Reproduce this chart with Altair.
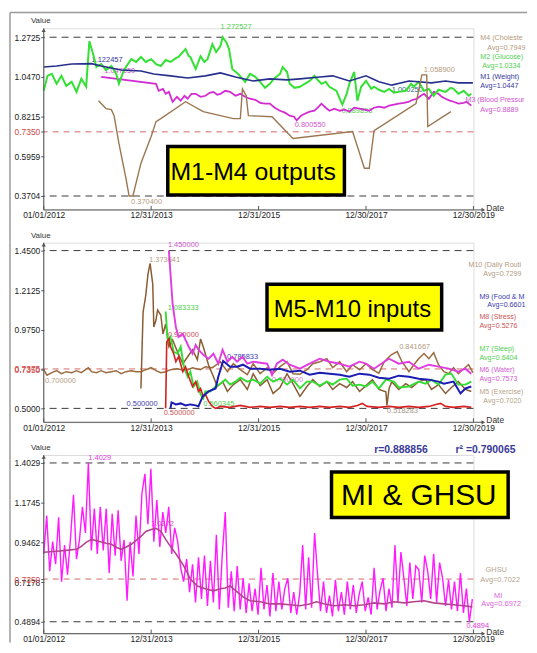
import altair as alt
import numpy as np
import pandas as pd

FONT = "Liberation Sans"
W = 433

# ---------------- x axis (decimal years) ----------------
x_ticks = [2012, 2014, 2016, 2018, 2020]
x_tick_labels = ["01/01/2012", "12/31/2013", "12/31/2015", "12/30/2017", "12/30/2019"]

# ---------------- top panel: M1-M4 outputs ----------------
m1 = [(2012.00, 1.103), (2012.24, 1.109), (2012.52, 1.120), (2012.89, 1.122457), (2013.07, 1.109),
      (2013.44, 1.086), (2013.81, 1.081), (2014.05, 1.064), (2014.36, 1.053), (2014.68, 1.041),
      (2015.01, 1.053), (2015.29, 1.070), (2015.57, 1.047), (2015.90, 1.024), (2016.21, 1.036),
      (2016.53, 1.030), (2016.77, 1.036), (2017.14, 1.047), (2017.38, 1.053), (2017.69, 1.024),
      (2018.00, 1.053), (2018.24, 1.019), (2018.48, 1.000250), (2018.80, 1.024), (2019.22, 1.013),
      (2019.48, 1.024), (2019.72, 1.013), (2019.99, 1.013)]
m2 = [(2012.00, 0.968), (2012.07, 1.053), (2012.15, 1.064), (2012.24, 1.008), (2012.33, 1.053), (2012.42, 0.996),
      (2012.52, 1.019), (2012.61, 0.962), (2012.70, 1.036), (2012.79, 0.991), (2012.85, 1.250), (2012.92, 1.177),
      (2012.98, 1.103), (2013.07, 1.120), (2013.16, 1.086), (2013.26, 1.109), (2013.35, 1.064), (2013.40, 1.008),
      (2013.48, 1.075), (2013.53, 1.103), (2013.63, 1.148), (2013.72, 1.132), (2013.81, 1.160), (2013.90, 1.132),
      (2014.00, 1.148), (2014.09, 1.120), (2014.18, 1.109), (2014.27, 1.143), (2014.36, 1.132), (2014.46, 1.154),
      (2014.51, 1.160), (2014.59, 1.188), (2014.64, 1.205), (2014.70, 1.165), (2014.73, 1.160), (2014.83, 1.092),
      (2014.92, 1.165), (2014.99, 1.132), (2015.05, 1.148), (2015.14, 1.233), (2015.21, 1.188), (2015.29, 1.222),
      (2015.33, 1.272527), (2015.40, 1.244), (2015.45, 1.205), (2015.51, 1.092), (2015.62, 1.064), (2015.70, 1.036),
      (2015.75, 1.019), (2015.84, 1.064), (2015.94, 1.047), (2016.03, 1.019), (2016.12, 0.985), (2016.21, 1.008),
      (2016.30, 1.041), (2016.40, 1.064), (2016.45, 1.103), (2016.53, 1.075), (2016.58, 1.008), (2016.67, 0.985),
      (2016.77, 0.991), (2016.86, 1.008), (2016.95, 1.024), (2017.04, 1.053), (2017.10, 1.030), (2017.17, 1.008),
      (2017.25, 1.019), (2017.32, 0.991), (2017.45, 0.968), (2017.52, 0.917), (2017.56, 0.889893), (2017.64, 0.951),
      (2017.69, 1.008), (2017.78, 1.075), (2017.84, 0.912), (2017.91, 0.991), (2018.00, 1.024), (2018.10, 0.979),
      (2018.15, 0.991), (2018.24, 0.974), (2018.34, 0.962), (2018.43, 0.979), (2018.52, 0.957), (2018.61, 0.962),
      (2018.74, 0.968), (2018.84, 1.008), (2018.89, 0.991), (2018.98, 1.019), (2019.08, 0.968), (2019.17, 0.979),
      (2019.26, 0.940), (2019.35, 0.974), (2019.48, 0.962), (2019.58, 0.985), (2019.63, 0.979), (2019.72, 0.951),
      (2019.82, 0.968), (2019.91, 0.940), (2019.96, 0.951)]
m3 = [(2013.07, 1.047850), (2014.09, 1.008), (2014.14, 0.968), (2014.22, 0.979), (2014.27, 0.951), (2014.33, 0.962),
      (2014.40, 0.906), (2014.48, 0.934), (2014.55, 0.912), (2014.62, 0.940), (2014.68, 0.923), (2014.75, 0.951),
      (2014.83, 0.951), (2014.92, 0.934), (2015.01, 0.940), (2015.09, 0.957), (2015.16, 0.962), (2015.23, 0.946),
      (2015.29, 0.951), (2015.38, 0.968), (2015.47, 0.962), (2015.57, 0.940), (2015.66, 0.951), (2015.75, 0.934),
      (2015.84, 0.923), (2015.94, 0.917), (2016.03, 0.900), (2016.12, 0.895), (2016.21, 0.895), (2016.30, 0.872),
      (2016.40, 0.855), (2016.49, 0.844), (2016.58, 0.827), (2016.66, 0.821), (2016.71, 0.800550), (2016.79, 0.827),
      (2016.86, 0.838), (2016.95, 0.850), (2017.04, 0.855), (2017.12, 0.878), (2017.17, 0.895), (2017.25, 0.872),
      (2017.32, 0.855), (2017.41, 0.867), (2017.51, 0.855), (2017.60, 0.861), (2017.69, 0.850), (2017.78, 0.872),
      (2017.88, 0.867), (2017.97, 0.861), (2018.06, 0.855), (2018.15, 0.872), (2018.24, 0.878), (2018.34, 0.872),
      (2018.43, 0.884), (2018.52, 0.889), (2018.61, 0.895), (2018.71, 0.900), (2018.80, 0.906), (2018.87, 0.917),
      (2018.95, 0.923), (2019.02, 0.940), (2019.08, 0.951), (2019.17, 0.923), (2019.26, 0.962), (2019.35, 0.951),
      (2019.41, 0.934), (2019.48, 0.923), (2019.56, 0.912), (2019.63, 0.906), (2019.72, 0.895), (2019.82, 0.900),
      (2019.87, 0.906), (2019.96, 0.884)]
m4 = [(2013.02, 0.912), (2013.16, 0.867), (2013.26, 0.861), (2013.31, 0.827), (2013.40, 0.669), (2013.53, 0.472),
      (2013.59, 0.370400), (2013.66, 0.370400), (2013.81, 0.557), (2014.00, 0.709), (2014.09, 0.793), (2014.18, 0.810),
      (2014.64, 0.906), (2014.97, 0.850), (2015.29, 0.827), (2015.53, 0.810), (2015.66, 0.810), (2015.70, 0.979),
      (2015.77, 0.940), (2015.81, 0.827), (2016.25, 0.821), (2016.64, 0.697), (2017.75, 0.737), (2017.97, 0.528),
      (2018.06, 0.528), (2018.15, 0.742), (2018.93, 0.895), (2019.04, 1.058900), (2019.13, 1.058900),
      (2019.15, 0.765), (2019.58, 0.850)]
top_ticks = [1.2725, 1.0470, 0.8215, 0.7350, 0.5959, 0.3704]

# ---------------- middle panel: M5-M10 inputs ----------------
m10 = [(2012.00, 0.733), (2012.06, 0.700), (2012.15, 0.715), (2012.24, 0.727), (2012.33, 0.709), (2012.42, 0.721),
       (2012.52, 0.715), (2012.61, 0.727), (2012.70, 0.715), (2012.83, 0.745), (2012.89, 0.721), (2012.98, 0.715),
       (2013.07, 0.727), (2013.16, 0.715), (2013.26, 0.721), (2013.35, 0.727), (2013.44, 0.709), (2013.53, 0.721),
       (2013.63, 0.727), (2013.72, 0.721), (2013.81, 0.721), (2013.90, 0.733), (2014.00, 0.745), (2014.09, 0.727),
       (2014.18, 0.715), (2014.27, 0.721), (2014.36, 0.733), (2014.49, 0.739), (2014.64, 0.727), (2014.77, 0.745),
       (2014.92, 0.733), (2015.01, 0.751), (2015.14, 0.745), (2015.29, 0.781), (2015.42, 0.721), (2015.53, 0.769),
       (2015.66, 0.733), (2015.79, 0.703), (2015.90, 0.769), (2016.03, 0.709), (2016.16, 0.745), (2016.27, 0.712),
       (2016.40, 0.751), (2016.53, 0.781), (2016.64, 0.709), (2016.77, 0.706), (2016.90, 0.733), (2017.01, 0.769),
       (2017.14, 0.781), (2017.27, 0.799), (2017.38, 0.745), (2017.51, 0.781), (2017.64, 0.721), (2017.75, 0.763),
       (2017.88, 0.733), (2018.00, 0.769), (2018.12, 0.733), (2018.24, 0.712), (2018.34, 0.781), (2018.47, 0.823),
       (2018.58, 0.841667), (2018.67, 0.781), (2018.80, 0.721), (2018.89, 0.763), (2018.98, 0.799), (2019.08, 0.830),
       (2019.17, 0.799), (2019.26, 0.835), (2019.35, 0.763), (2019.45, 0.721), (2019.54, 0.709), (2019.63, 0.745),
       (2019.72, 0.709), (2019.82, 0.739), (2019.91, 0.763), (2019.99, 0.715)]
m5 = [(2013.81, 0.620), (2013.85, 1.080), (2013.90, 1.181), (2013.94, 1.307), (2013.98, 1.373641), (2014.03, 1.247),
      (2014.05, 0.990), (2014.09, 1.032), (2014.12, 1.092), (2014.18, 1.062), (2014.22, 0.948), (2014.27, 1.008),
      (2014.33, 0.871), (2014.40, 0.912), (2014.49, 0.841), (2014.59, 0.769), (2014.68, 0.811), (2014.77, 0.853),
      (2014.86, 0.793), (2014.92, 0.918), (2014.97, 0.871), (2015.07, 0.760), (2015.16, 0.691), (2015.23, 0.632),
      (2015.33, 0.661), (2015.42, 0.602), (2015.53, 0.643), (2015.66, 0.673), (2015.79, 0.614), (2015.90, 0.709),
      (2016.03, 0.637), (2016.16, 0.673), (2016.27, 0.590), (2016.40, 0.626), (2016.53, 0.709), (2016.64, 0.649),
      (2016.77, 0.572), (2016.90, 0.632), (2017.01, 0.673), (2017.14, 0.632), (2017.27, 0.661), (2017.38, 0.614),
      (2017.51, 0.649), (2017.64, 0.626), (2017.75, 0.661), (2017.88, 0.602), (2018.00, 0.637), (2018.12, 0.673),
      (2018.24, 0.614), (2018.37, 0.600), (2018.39, 0.518283), (2018.43, 0.620), (2018.48, 0.661), (2018.61, 0.614),
      (2018.74, 0.649), (2018.85, 0.626), (2018.98, 0.661), (2019.11, 0.673), (2019.22, 0.614), (2019.35, 0.643),
      (2019.48, 0.590), (2019.59, 0.626), (2019.72, 0.661), (2019.85, 0.614), (2019.96, 0.602)]
m6 = [(2014.33, 1.450000), (2014.40, 1.127), (2014.46, 0.990), (2014.51, 0.930), (2014.59, 0.948), (2014.64, 0.912),
      (2014.70, 0.871), (2014.77, 0.829), (2014.83, 0.882), (2014.88, 0.853), (2014.97, 0.823), (2015.07, 0.799),
      (2015.16, 0.829), (2015.25, 0.769), (2015.33, 0.853), (2015.42, 0.781), (2015.51, 0.811), (2015.60, 0.781),
      (2015.70, 0.811), (2015.79, 0.769), (2015.90, 0.781), (2016.03, 0.775), (2016.16, 0.769), (2016.25, 0.700000),
      (2016.34, 0.769), (2016.45, 0.793), (2016.58, 0.763), (2016.77, 0.739), (2016.95, 0.769), (2017.14, 0.799),
      (2017.32, 0.781), (2017.51, 0.769), (2017.69, 0.751), (2017.88, 0.781), (2018.00, 0.769), (2018.15, 0.739),
      (2018.34, 0.781), (2018.43, 0.799), (2018.61, 0.769), (2018.80, 0.781), (2018.98, 0.739), (2019.17, 0.763),
      (2019.35, 0.751), (2019.54, 0.739), (2019.72, 0.721), (2019.85, 0.739), (2019.96, 0.709)]
m7 = [(2014.27, 1.083333), (2014.31, 0.900), (2014.36, 0.930), (2014.42, 0.841), (2014.49, 0.829), (2014.55, 0.871),
      (2014.61, 0.751), (2014.68, 0.691), (2014.73, 0.721), (2014.79, 0.632), (2014.86, 0.661), (2014.92, 0.584),
      (2014.97, 0.560345), (2015.01, 0.602), (2015.10, 0.602), (2015.20, 0.632), (2015.29, 0.649), (2015.38, 0.673),
      (2015.47, 0.643), (2015.57, 0.661), (2015.66, 0.685), (2015.79, 0.661), (2015.90, 0.673), (2016.03, 0.649),
      (2016.16, 0.691), (2016.27, 0.661), (2016.40, 0.679), (2016.53, 0.643), (2016.64, 0.673), (2016.77, 0.620),
      (2016.90, 0.661), (2017.01, 0.661), (2017.14, 0.637), (2017.27, 0.661), (2017.38, 0.643), (2017.51, 0.673),
      (2017.64, 0.679), (2017.75, 0.637), (2017.88, 0.643), (2018.00, 0.632), (2018.12, 0.661), (2018.24, 0.620),
      (2018.37, 0.673), (2018.52, 0.661), (2018.61, 0.626), (2018.80, 0.632), (2018.98, 0.661), (2019.11, 0.649),
      (2019.22, 0.673), (2019.35, 0.643), (2019.48, 0.703), (2019.59, 0.709), (2019.72, 0.643), (2019.85, 0.643),
      (2019.96, 0.661)]
m8 = [(2014.27, 0.500000), (2014.29, 0.900), (2014.33, 0.920000), (2014.36, 0.871), (2014.42, 0.829), (2014.46, 0.781),
      (2014.51, 0.811), (2014.59, 0.721), (2014.64, 0.751), (2014.70, 0.691), (2014.77, 0.632), (2014.83, 0.661),
      (2014.88, 0.602), (2014.92, 0.620), (2014.97, 0.572), (2015.01, 0.584), (2015.07, 0.542), (2015.14, 0.512),
      (2015.20, 0.500), (2015.29, 0.512), (2015.47, 0.506), (2015.66, 0.518), (2015.84, 0.506), (2016.03, 0.512),
      (2016.21, 0.506), (2016.40, 0.512), (2016.58, 0.506), (2016.77, 0.512), (2016.95, 0.506), (2017.14, 0.512),
      (2017.32, 0.506), (2017.51, 0.512), (2017.69, 0.506), (2017.84, 0.518), (2017.93, 0.530), (2018.02, 0.512),
      (2018.24, 0.506), (2018.43, 0.512), (2018.61, 0.506), (2018.80, 0.512), (2018.98, 0.506), (2019.17, 0.512),
      (2019.30, 0.524), (2019.39, 0.530), (2019.48, 0.512), (2019.63, 0.506), (2019.82, 0.512), (2019.96, 0.506)]
m9 = [(2014.36, 0.500000), (2014.38, 0.536), (2014.46, 0.524), (2014.55, 0.530), (2014.64, 0.518), (2014.73, 0.524),
      (2014.83, 0.518), (2014.88, 0.512), (2014.96, 0.572), (2015.07, 0.602), (2015.20, 0.620), (2015.25, 0.691),
      (2015.29, 0.733), (2015.34, 0.785833), (2015.47, 0.751), (2015.60, 0.751), (2015.71, 0.763), (2015.84, 0.739),
      (2016.03, 0.739), (2016.21, 0.733), (2016.40, 0.739), (2016.58, 0.721), (2016.77, 0.727), (2016.95, 0.703),
      (2017.14, 0.715), (2017.32, 0.709), (2017.51, 0.703), (2017.69, 0.691), (2017.88, 0.709), (2018.06, 0.703),
      (2018.24, 0.685), (2018.43, 0.679), (2018.61, 0.697), (2018.80, 0.691), (2018.98, 0.679), (2019.17, 0.673),
      (2019.35, 0.661), (2019.45, 0.649), (2019.63, 0.661), (2019.76, 0.590), (2019.85, 0.620), (2019.96, 0.632)]
mid_ticks = [1.4500, 1.2125, 0.9750, 0.7375, 0.7350, 0.5000]

# ---------------- bottom panel: MI & GHSU ----------------
mi_v = [0.88, 1.10, 0.78, 0.95, 0.82, 1.09, 0.72, 0.93, 0.76, 0.97,
        1.22, 0.85, 0.96, 1.15, 1.00, 1.4029, 0.90, 1.14, 0.88, 1.15,
        0.90, 1.14, 0.77, 1.11, 0.87, 1.13, 0.84, 0.96, 0.61, 0.95,
        0.75, 1.10, 0.88, 1.23, 1.34, 1.05, 1.37, 0.95, 1.19, 0.92,
        1.12, 1.00, 1.15, 0.88, 1.03, 0.95, 0.80, 0.72, 0.85, 0.66,
        0.82, 0.60, 0.86, 0.62, 0.87, 0.58, 0.84, 0.60, 0.99, 0.56,
        0.88, 1.12, 0.57, 0.78, 0.55, 0.81, 0.56, 0.74, 0.54, 0.71,
        0.55, 0.68, 0.53, 0.80, 0.56, 0.70, 0.52, 0.77, 0.55, 0.72,
        0.56, 0.68, 0.74, 0.54, 0.66, 0.53, 0.65, 0.93, 0.56, 0.86,
        0.57, 1.00, 0.76, 0.55, 0.72, 0.54, 0.64, 0.52, 0.73, 0.55,
        0.66, 0.53, 0.72, 0.56, 0.70, 0.54, 0.65, 0.72, 0.55, 0.63,
        0.53, 0.80, 0.56, 0.67, 0.74, 0.55, 0.68, 0.57, 0.93, 0.60,
        0.89, 0.74, 0.58, 0.83, 0.62, 0.81, 0.79, 0.60, 0.87, 0.78,
        0.62, 0.88, 0.60, 0.83, 0.74, 0.58, 0.73, 0.56, 0.72, 0.55,
        0.77, 0.54, 0.68, 0.4894, 0.62]
mi_t = np.linspace(2012.0, 2019.98, len(mi_v))
mi = list(zip(mi_t.tolist(), mi_v))
ghsu = [(2012.00, 0.889), (2012.24, 0.895), (2012.42, 0.900), (2012.61, 0.906), (2012.70, 0.923), (2012.79, 0.946),
        (2012.89, 0.963), (2013.02, 0.952), (2013.16, 0.941), (2013.26, 0.935), (2013.35, 0.918), (2013.44, 0.906),
        (2013.53, 0.918), (2013.63, 0.935), (2013.72, 0.958), (2013.81, 0.980), (2013.90, 1.009), (2014.00, 1.020),
        (2014.09, 1.0272), (2014.18, 1.009), (2014.27, 0.963), (2014.36, 0.923), (2014.48, 0.872), (2014.61, 0.809),
        (2014.73, 0.735), (2014.86, 0.695), (2015.01, 0.679), (2015.16, 0.667), (2015.29, 0.679), (2015.38, 0.684),
        (2015.47, 0.695), (2015.60, 0.661), (2015.71, 0.632), (2015.84, 0.610), (2016.03, 0.604), (2016.21, 0.592),
        (2016.40, 0.592), (2016.58, 0.587), (2016.77, 0.581), (2016.95, 0.592), (2017.08, 0.604), (2017.23, 0.592),
        (2017.41, 0.581), (2017.60, 0.587), (2017.78, 0.581), (2017.97, 0.587), (2018.15, 0.598), (2018.34, 0.592),
        (2018.52, 0.604), (2018.71, 0.598), (2018.89, 0.604), (2019.08, 0.610), (2019.26, 0.598), (2019.45, 0.592),
        (2019.63, 0.587), (2019.82, 0.581), (2019.98, 0.575)]
bot_ticks = [1.4029, 1.1745, 0.9462, 0.7350, 0.7178, 0.4894]

# ---------------- helpers ----------------
ONE = alt.Data(values=[{"k": 0}])
RIGHT = 487          # right-most pixel for legend text (relative to plot left)
FRAME_X, FRAME_Y = -34, -16
FRAME_C = "#9a9a9a"

label_expr = " : ".join(
    f"datum.value == {v} ? '{s}'" for v, s in zip(x_ticks[:-1], x_tick_labels[:-1])
) + f" : '{x_tick_labels[-1]}'"


def xenc():
    return alt.X("t:Q", scale=alt.Scale(domain=[2012, 2020], nice=False, zero=False),
                 axis=alt.Axis(values=x_ticks, labelExpr=label_expr, title=None, ticks=False, tickSize=0,
                               domain=False, grid=False, labelFlush=False, labelOverlap=False,
                               labelFont=FONT, labelFontSize=8.5, labelColor="#222", labelPadding=1))


def yenc(dom, ticks):
    return alt.Y("v:Q", scale=alt.Scale(domain=dom, nice=False, zero=False),
                 axis=alt.Axis(values=ticks, format=".4f", title=None, domain=False, grid=False,
                               tickSize=3, tickColor="#555", labelFlush=False, labelOverlap=False,
                               labelFont=FONT, labelFontSize=8.5, labelPadding=1,
                               labelColor={"condition": {"test": "datum.value > 0.73 && datum.value < 0.74",
                                                         "value": "#d04848"}, "value": "#222"}))


def note(text, x, y, color, size=7.5, align="left", weight="normal", baseline="middle", limit=0):
    kw = dict(text=text, color=color, fontSize=size, font=FONT, align=align, baseline=baseline, fontWeight=weight)
    if limit:
        kw["limit"] = limit
        kw["ellipsis"] = " "
    return alt.Chart(ONE).mark_text(**kw).encode(x=alt.value(x), y=alt.value(y))


def legend(text, x, y, color):
    return note(text, x, y, color, 7.2, "left", limit=RIGHT - x)


def ext_label(pairs, which, color, dx, dy, X, Y, align="left", dec=6):
    vals = [p[1] for p in pairs]
    i = int(np.argmax(vals)) if which == "max" else int(np.argmin(vals))
    t, v = pairs[i]
    d = pd.DataFrame({"t": [t], "v": [v], "lab": [f"{v:.{dec}f}"]})
    return alt.Chart(d).mark_text(align=align, baseline="middle", dx=dx, dy=dy, color=color,
                                  fontSize=7.5, font=FONT).encode(x=X, y=Y, text="lab:N")


def rule_px(x, y, x2=None, y2=None, color="#555", w=1.0):
    enc = dict(x=alt.value(x), y=alt.value(y))
    if x2 is not None:
        enc["x2"] = alt.value(x2)
    if y2 is not None:
        enc["y2"] = alt.value(y2)
    return alt.Chart(ONE).mark_rule(color=color, strokeWidth=w).encode(**enc)


def panel(H, dom, ticks, black_vals, red_vals, series, labels, notes, box, frame):
    X = xenc()
    Y = yenc(dom, ticks)
    layers = [
        alt.Chart(pd.DataFrame({"v": black_vals})).mark_rule(color="#3a3a3a", strokeDash=[7, 5], strokeWidth=1).encode(y=Y),
        alt.Chart(pd.DataFrame({"v": red_vals})).mark_rule(color="#d46a6a", strokeDash=[6, 5], strokeWidth=1).encode(y=Y),
    ]
    for lab in labels:
        pairs, which, color, dx, dy = lab[:5]
        align = lab[5] if len(lab) > 5 else "left"
        dec = lab[6] if len(lab) > 6 else 6
        layers.append(ext_label(pairs, which, color, dx, dy, X, Y, align, dec))
    for pairs, color, w in series:
        d = pd.DataFrame(pairs, columns=["t", "v"])
        layers.append(alt.Chart(d).mark_line(color=color, strokeWidth=w).encode(x=X, y=Y))
    layers += [
        rule_px(0, 0, y2=H),
        rule_px(0, H, x2=W + 10),
        alt.Chart(pd.DataFrame({"t": x_ticks})).mark_rule(color="#555").encode(x=X, y=alt.value(H - 4), y2=alt.value(H)),
        alt.Chart(ONE).mark_point(shape="triangle-up", filled=True, size=18, color="#555", opacity=1).encode(
            x=alt.value(0), y=alt.value(2)),
        alt.Chart(ONE).mark_point(shape="triangle-right", filled=True, size=18, color="#555", opacity=1).encode(
            x=alt.value(W + 10), y=alt.value(H)),
        note("Value", -3, -7, "#333", 8, "center"),
        note("Date", W + 13, H - 2, "#333", 8.5, "left"),
    ]
    # page frame (grey border of the figure)
    fy0, fy1, top_line = frame
    layers.append(rule_px(FRAME_X, fy0, y2=fy1, color=FRAME_C, w=1.5))
    if top_line:
        layers.append(rule_px(FRAME_X, FRAME_Y, x2=RIGHT, color=FRAME_C, w=1.5))
    bx0, bx1, by0, by1, text, size, tx, ty = box
    layers.append(alt.Chart(ONE).mark_rect(fill="#ffff00", stroke="#000", strokeWidth=3.5).encode(
        x=alt.value(bx0), x2=alt.value(bx1), y=alt.value(by0), y2=alt.value(by1)))
    layers.append(note(text, tx, ty, "#000", size, "center", baseline="alphabetic"))
    layers += notes
    return alt.layer(*layers).properties(width=W, height=H)


# ---------------- panels ----------------
NAVY, GREEN, MAG, TAN = "#26308c", "#33e033", "#d42ad4", "#9c7650"
LT_TAN, LT_GREEN, LT_MAG, LT_NAVY = "#b59b80", "#4fcf4f", "#cf55cf", "#36369c"
SPACING = 33

H1 = 183
top = panel(
    H1, [0.2915, 1.3232], top_ticks, [1.2725, 0.3704], [0.7350],
    [(m3, MAG, 1.8), (m2, GREEN, 2.0), (m1, NAVY, 1.6), (m4, TAN, 1.4)],
    [(m2, "max", LT_GREEN, -2, -10), (m1, "max", LT_NAVY, 0, -4), (m3, "max", LT_MAG, 3, -6),
     (m4, "min", LT_TAN, 2, 6), (m3, "min", LT_MAG, -2, 5), (m2, "min", LT_GREEN, -1, 6),
     (m4, "max", LT_TAN, 2, -5), (m1, "min", "#2a6a7a", 0, 5)],
    [legend("M4 (Cholesterol)", 440, 10, LT_TAN), legend("Avg=0.7949", 447, 20, LT_TAN),
     legend("M2 (Glucose)", 440, 29, LT_GREEN), legend("Avg=1.0334", 442, 38, LT_GREEN),
     legend("M1 (Weight)", 440, 49, LT_NAVY), legend("Avg=1.0447", 440, 58, LT_NAVY),
     legend("M3 (Blood Pressure)", 425, 72, LT_MAG), legend("Avg=0.8889", 440, 82, LT_MAG)],
    (125, 303, 119, 168, "M1-M4 outputs", 25, 211, 153),
    (FRAME_Y, H1 + SPACING, True),
)

H2 = 181
BROWN10, BROWN5, BLUE, RED, GREEN2, MAG2 = "#9a6b3e", "#8a5c33", "#1c1cb4", "#d42020", "#33dd33", "#e03ce0"
mid = panel(
    H2, [0.4164, 1.4978], mid_ticks, [1.45, 0.5], [0.7375],
    [(m10, BROWN10, 1.5), (m5, BROWN5, 1.5), (m7, GREEN2, 1.9), (m6, MAG2, 1.9), (m8, RED, 1.6), (m9, BLUE, 2.0)],
    [(m10, "min", LT_TAN, -2, 6), (m5, "max", LT_TAN, -1, -3), (m6, "max", LT_MAG, -1, -6),
     (m7, "max", LT_GREEN, 2, -4), (m8, "max", "#d05050", -1, -4), (m9, "max", "#4040b0", 4, -4),
     (m9, "min", "#4040b0", -13, -4, "right"), (m8, "min", "#d05050", -2, 5), (m7, "min", LT_GREEN, 0, 6),
     (m6, "min", "#d57ad5", 0, 5), (m10, "max", LT_TAN, 2, -5), (m5, "min", "#a89888", 0, 6)],
    [legend("M10 (Daily Routine)", 428, 23, LT_TAN), legend("Avg=0.7299", 443, 32, LT_TAN),
     legend("M9 (Food & Meal)", 439, 55, "#3a3ab0"), legend("Avg=0.6601", 447, 63, "#3a3ab0"),
     legend("M8 (Stress)", 439, 75, "#cc5555"), legend("Avg=0.5276", 439, 84, "#cc5555"),
     legend("M7 (Sleep)", 439, 107, LT_GREEN), legend("Avg=0.6404", 439, 116, LT_GREEN),
     legend("M6 (Water)", 439, 128, "#d060d0"), legend("Avg=0.7573", 439, 137, "#d060d0"),
     legend("M5 (Exercise)", 439, 151, "#b8a488"), legend("Avg=0.7020", 443, 160, "#b8a488")],
    (225, 401, 42, 88, "M5-M10 inputs", 24, 311, 75),
    (0, H2 + SPACING, False),
)

H3 = 180
bot = panel(
    H3, [0.4209, 1.4486], bot_ticks, [1.4029, 0.4894], [0.7350],
    [(mi, "#ff1aff", 1.4), (ghsu, "#b4448c", 1.6)],
    [(mi, "max", "#e040e0", 0, -5, "left", 4), (ghsu, "max", "#c05a9a", -5, -4, "left", 4),
     (mi, "min", "#e040e0", -3, 4, "left", 4)],
    [note("r=0.888856", 333, -5, "#3a3a9a", 10.5, "left", "bold"),
     note("r² =0.790065", 415, -5, "#3a3a9a", 10.5, "left", "bold"),
     note("GHSU", 456, 116, "#b8a490", 7.5, "center"), note("Avg=0.7022", 460, 126, "#b8a490", 7.5, "center"),
     note("MI", 458, 142, "#dd66dd", 7.5, "center"), note("Avg=0.6972", 461, 150, "#dd66dd", 7.5, "center")],
    (290, 468, 17, 63, "MI & GHSU", 30, 378, 50),
    (0, H3 + 9, False),
)

chart = alt.vconcat(top, mid, bot, spacing=SPACING, bounds="flush").properties(
    padding={"left": 0, "top": 0, "right": 0, "bottom": 0}
).configure_view(stroke=None).configure(font=FONT)

chart.save("out.html", embed_options={"renderer": "svg", "actions": False})
